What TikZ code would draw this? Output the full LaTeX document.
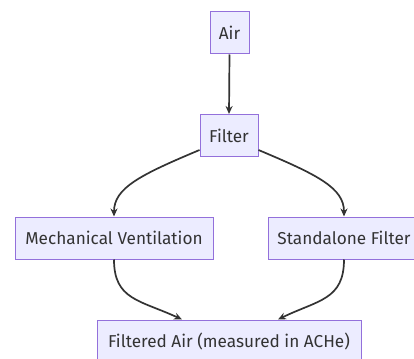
\documentclass[tikz,border=0pt]{standalone}
\usepackage{fontspec}
\setmainfont{Fira Sans}
\usetikzlibrary{arrows.meta,calc}
\definecolor{boxfill}{HTML}{ECECFF}
\definecolor{boxline}{HTML}{9370DB}
\definecolor{ink}{HTML}{333333}
\begin{document}
\begin{tikzpicture}[x=1pt,y=-1pt,
  flowbox/.style={draw=boxline,fill=boxfill,line width=1pt,minimum height=42pt,
    inner sep=0pt,text=ink,font=\fontsize{17.2}{20}\selectfont},
  flow/.style={draw=ink,line width=1.7pt,-{Stealth[length=8pt,width=7pt]}}]
  \useasboundingbox (0,0) rectangle (414,358);
  \fill[white] (0,0) rectangle (414,358);
  \node[flowbox,minimum width=39pt] (air) at (229.5,33) {Air};
  \node[flowbox,minimum width=58pt] (filt) at (229,135.5) {Filter};
  \node[flowbox,minimum width=198pt] (mech) at (114,238) {Mechanical Ventilation};
  \node[flowbox,minimum width=152pt] (stand) at (344,238) {Standalone Filter};
  \node[flowbox,minimum width=264pt] (out) at (229,341) {Filtered Air (measured in ACHe)};
  \draw[flow] (air.south) -- (filt.north);
  \draw[flow] ($(filt.south west)+(0,-7)$) .. controls (140,175) and (114,188) .. (mech.north);
  \draw[flow] ($(filt.south east)+(0,-7)$) .. controls (318,175) and (344,188) .. (stand.north);
  \draw[flow] (mech.south) .. controls (114,300) and (140,300) .. ($(out.north)+(-47,0)$);
  \draw[flow] (stand.south) .. controls (344,300) and (318,300) .. ($(out.north)+(49,0)$);
\end{tikzpicture}
\end{document}
